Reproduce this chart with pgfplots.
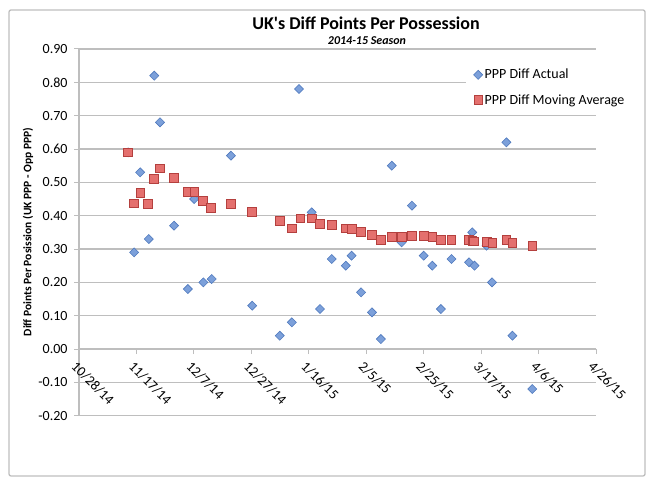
\documentclass[border=0pt]{standalone}
\usepackage{pgfplots}
\pgfplotsset{compat=1.18}
\usepackage{fontspec}
\setmainfont{Carlito}
\definecolor{gridgray}{RGB}{190,190,190}
\definecolor{bluefill}{RGB}{124,160,218}
\definecolor{blueedge}{RGB}{79,121,189}
\definecolor{redfill}{RGB}{228,112,110}
\definecolor{rededge}{RGB}{180,64,62}
\definecolor{framegray}{RGB}{190,190,190}
\pgfplotsset{tightmark/.style={legend image code/.code={\path[draw=none,fill=none,mark=none] (-9bp,0bp) -- (0bp,0bp); \draw[mark repeat=2,mark phase=2,##1] plot coordinates {(-5bp,0bp)(0bp,0bp)(5bp,0bp)};}}}

\pgfplotstableread{
d v
17.1 0.59
19.2 0.29
21.3 0.53
24.3 0.33
26.2 0.82
28.2 0.68
33.1 0.37
37.9 0.18
40.1 0.45
43.3 0.20
46.2 0.21
52.9 0.58
60.3 0.13
69.9 0.04
74.1 0.08
76.6 0.78
81.0 0.41
83.9 0.12
88.0 0.27
92.9 0.25
94.9 0.28
98.2 0.17
102.0 0.11
105.1 0.03
108.9 0.55
112.3 0.32
115.9 0.43
120.0 0.28
123.0 0.25
126.0 0.12
129.7 0.27
135.8 0.26
136.9 0.35
137.7 0.25
141.9 0.31
143.8 0.20
148.8 0.62
150.9 0.04
157.8 -0.12
}\actual

\pgfplotstableread{
d v
17.1 0.590
19.2 0.437
21.3 0.469
24.0 0.436
26.1 0.511
28.2 0.542
33.1 0.514
37.7 0.472
40.1 0.472
43.2 0.445
46.0 0.424
52.9 0.436
60.2 0.411
69.9 0.385
74.1 0.362
77.0 0.392
81.0 0.392
83.9 0.376
88.0 0.373
92.9 0.362
94.9 0.360
98.2 0.351
102.0 0.342
105.1 0.327
108.9 0.337
112.3 0.337
115.9 0.340
120.0 0.340
123.0 0.337
126.0 0.328
129.7 0.328
135.8 0.327
136.9 0.325
137.5 0.323
141.9 0.322
143.9 0.319
148.8 0.327
150.9 0.319
157.8 0.310
}\movavg

\begin{document}
\begin{tikzpicture}
\path[use as bounding box] (0,0) rectangle (654bp,481bp);
\draw[framegray, line width=1.3bp, rounded corners=2bp] (9bp,5bp) rectangle (645bp,471bp);
\begin{axis}[
  at={(79bp,65.3bp)}, anchor=south west,
  scale only axis, width=517bp, height=366.7bp,
  xmin=0, xmax=180, ymin=-0.2, ymax=0.9,
  axis x line=middle, axis y line=left,
  axis line style={-, draw=gridgray, line width=1.2bp},
  hide obscured x ticks=false, hide obscured y ticks=false,
  xtick={0,20,40,60,80,100,120,140,160,180},
  xticklabels={10/28/14,11/17/14,12/7/14,12/27/14,1/16/15,2/5/15,2/25/15,3/17/15,4/6/15,4/26/15},
  ytick={-0.2,-0.1,0,0.1,0.2,0.3,0.4,0.5,0.6,0.7,0.8,0.9},
  yticklabels={-0.20,-0.10,0.00,0.10,0.20,0.30,0.40,0.50,0.60,0.70,0.80,0.90},
  ymajorgrids, grid style={gridgray, line width=1.2bp},
  tick align=outside, major tick length=5bp,
  tick style={gridgray, line width=1bp},
  ticklabel style={font=\fontsize{14bp}{16bp}\selectfont, text=black},
  xticklabel style={rotate=-45, anchor=north west, yshift=-2bp},
  yticklabel style={xshift=-3bp},
  clip=false,
  legend cell align=left,
  legend style={draw=none, fill=white, at={(0.7485,0.959)}, anchor=north west,
    font=\fontsize{14bp}{16bp}\selectfont, row sep=10bp, inner sep=3bp},
]
\addplot[only marks, mark=square*, mark size=3.2bp,
  mark options={rotate=45, fill=bluefill, draw=blueedge, line width=0.6bp}, tightmark]
  table[x=d, y=v] {\actual};
\addlegendentry{PPP Diff Actual}
\addplot[only marks, mark=square*, mark size=4.3bp,
  mark options={fill=redfill, draw=rededge, line width=0.7bp}, tightmark]
  table[x=d, y=v] {\movavg};
\addlegendentry{PPP Diff Moving Average}
\end{axis}
\node[anchor=base, font=\fontsize{18bp}{20bp}\selectfont\bfseries] at (366bp,451.5bp) {UK\textquotesingle s Diff Points Per Possession};
\node[anchor=base, font=\fontsize{12bp}{14bp}\selectfont\bfseries\itshape] at (367bp,436.5bp) {2014-15 Season};
\node[rotate=90, font=\fontsize{11.5bp}{13bp}\selectfont\bfseries] at (28bp,249bp) {Diff Points Per Posission (UK PPP - Opp PPP)};
\end{tikzpicture}
\end{document}
